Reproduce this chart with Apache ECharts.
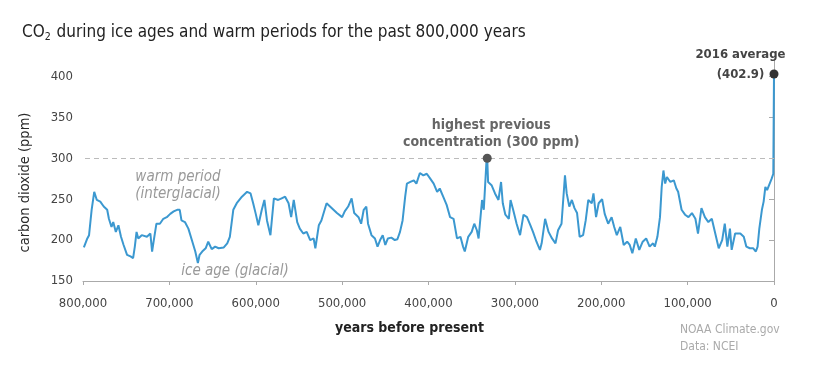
<!DOCTYPE html>
<html>
<head>
<meta charset="utf-8">
<script src="https://cdn.jsdelivr.net/npm/echarts@6/dist/echarts.min.js"></script>
<style>
html,body{margin:0;padding:0;background:#fff;}
#c{width:813px;height:367px;}
</style>
</head>
<body>
<div id="c"></div>
<script>
// years before present (thousands of years) and CO2 (ppm)
const yearsK = [799,797,795,793,790,787,784,780,776,772,770,767,765,762,759,756,753,749,745,742,740,738,736,732,726,722,720,718,715,711,707,703,699,695,691,688,686,682,678,674,670,667,665,662,658,655,651,647,643,637,633,630,626,622,616,610,606,603,600,597,593,590,587,583,579,574,570,566,562,559,556,552,549,545,541,537,533,531,527,524,518,514,510,506,500,497,493,489,486,481,478,475,472,470,466,462,459,456,453,450,447,443,439,436,433,430,427,425,421,417,414,410,406,402,398,394,390,387,383,379,375,371,367,363,360,358,354,350,347,344,342,340,338,336,333,332,331,327,323,319,316,314,311,307,305,302,298,294,290,286,282,279,275,271,269,265,261,257,253,250,246,242,240,237,234,231,228,225,221,218,215,211,209,206,203,199,198,196,192,188,185,182,178,174,170,167,164,160,156,152,148,144,140,138,135,132,130,128,126,124,120,116,113,111,107,103,99,95,91,88,84,80,76,72,68,64,60,57,54,51,49,45,39,35,32,28,24,21,19,17,14,12,10,8,5,2.7,0.8,0];
const co2 = [191,189,202,206,237,259,249,247,241,237,226,216,222,210,218,204,194,182,180,178,192,210,202,206,204,208,186,200,220,220,226,228,232,235,237,237,224,222,214,200,186,172,182,186,190,198,189,192,190,191,196,204,237,245,253,259,257,245,232,218,237,249,224,206,251,249,251,253,245,228,249,222,214,208,210,200,202,190,218,224,245,241,237,233,228,235,241,251,233,228,220,237,241,220,206,202,192,200,206,194,202,203,200,201,210,224,253,269,271,273,269,282,279,281,275,269,259,263,253,243,228,226,202,204,192,186,204,210,220,212,202,202,249,237,294,300,271,267,257,249,271,245,231,226,249,237,220,206,231,228,218,210,198,188,196,226,210,202,196,212,220,279,257,241,249,239,233,204,206,224,249,245,257,228,245,250,249,232,220,228,216,206,216,194,198,194,184,202,188,198,202,192,196,192,204,228,265,285,269,277,271,273,263,259,237,231,228,233,226,208,239,228,222,226,208,190,200,220,192,214,188,208,208,204,192,190,190,186,192,214,237,247,265,261,269,275,281,402.9];
const yTicks = [150,200,250,300,350,400];
const xTicks = [800000,700000,600000,500000,400000,300000,200000,100000,0];
const peakPrev = [332000, 300];
const latest = [0, 402.9];
const refLevel = 300;
const warmLabelAt = [690000, 267];
const iceLabelAt = [624000, 162];

const FONT = "'DejaVu Sans Condensed','DejaVu Sans',sans-serif";
const lineData = yearsK.map((k,i)=>[k*1000, co2[i]]);

const chart = echarts.init(document.getElementById('c'), null, {renderer:'canvas'});
chart.setOption({
  animation:false,
  backgroundColor:'#fff',
  textStyle:{fontFamily:FONT},
  title:{
    text:'CO{s|2} during ice ages and warm periods for the past 800,000 years',
    left:17, top:18,
    textStyle:{fontFamily:FONT,fontSize:17,fontWeight:'normal',color:'#222',
      rich:{s:{fontFamily:FONT,fontSize:10.5,color:'#222',verticalAlign:'bottom',padding:[9,1,0,0]}}}
  },
  grid:{left:83,right:39,top:60,bottom:86,containLabel:false},
  xAxis:{
    type:'value', inverse:true, min:0, max:800000, interval:100000,
    name:'years before present', nameLocation:'middle', nameGap:40,
    nameTextStyle:{fontFamily:FONT,fontSize:14,fontWeight:'bold',color:'#222',padding:[0,38,0,0]},
    axisLine:{show:true,lineStyle:{color:'#aaa',width:1}},
    axisTick:{show:true,length:4,lineStyle:{color:'#aaa'}},
    axisLabel:{color:'#444',fontSize:13,fontFamily:FONT,margin:16,
      formatter:v=>xTicks.includes(v)?v.toLocaleString('en-US'):''},
    splitLine:{show:false}
  },
  yAxis:{
    type:'value', min:150, max:420, interval:50,
    name:'carbon dioxide (ppm)', nameLocation:'middle', nameGap:50, nameRotate:90,
    nameTextStyle:{fontFamily:FONT,fontSize:14.5,color:'#2a2a2a',padding:[0,24,0,0]},
    axisLine:{show:true,lineStyle:{color:'#aaa',width:1}},
    axisTick:{show:true,length:5,lineStyle:{color:'#aaa'},customValues:yTicks},
    axisLabel:{color:'#444',fontSize:13,fontFamily:FONT,margin:10,customValues:yTicks},
    splitLine:{show:false}
  },
  graphic:[
    {type:'text',left:680,top:321,style:{text:'NOAA Climate.gov\nData: NCEI',fill:'#aaa',font:"12px "+FONT,lineHeight:17}}
  ],
  series:[{
    type:'line',
    data:lineData,
    showSymbol:false,
    symbol:'none',
    lineStyle:{color:'#3b98d0',width:2},
    clip:false,
    markLine:{
      silent:true, symbol:'none',
      label:{show:false},
      lineStyle:{color:'#bbb',type:[5,4],width:1},
      data:[{yAxis:refLevel}]
    },
    markPoint:{
      silent:true,
      data:[
        {coord:peakPrev,symbol:'circle',symbolSize:9,itemStyle:{color:'#555'},
          label:{show:true,position:'top',distance:3,formatter:'highest previous\nconcentration (300 ppm)',
            color:'#666',fontWeight:'bold',fontSize:14,fontFamily:FONT,lineHeight:17,align:'center',offset:[4,0]}},
        {coord:latest,symbol:'circle',symbolSize:9,itemStyle:{color:'#333'},
          label:{show:true,position:[-29,-5],formatter:'2016 average\n(402.9)',
            color:'#444',fontWeight:'bold',fontSize:13,fontFamily:FONT,lineHeight:20,align:'center',verticalAlign:'middle'}},
        {coord:warmLabelAt,symbol:'circle',symbolSize:1,itemStyle:{color:'rgba(0,0,0,0)'},
          label:{show:true,position:'inside',formatter:'warm period\n(interglacial)',color:'#999',
            fontStyle:'italic',fontSize:15,fontFamily:FONT,lineHeight:17,align:'center',verticalAlign:'middle'}},
        {coord:iceLabelAt,symbol:'circle',symbolSize:1,itemStyle:{color:'rgba(0,0,0,0)'},
          label:{show:true,position:'inside',formatter:'ice age (glacial)',color:'#999',
            fontStyle:'italic',fontSize:15,fontFamily:FONT,align:'center',verticalAlign:'middle'}}
      ]
    }
  }]
});
</script>
</body>
</html>
